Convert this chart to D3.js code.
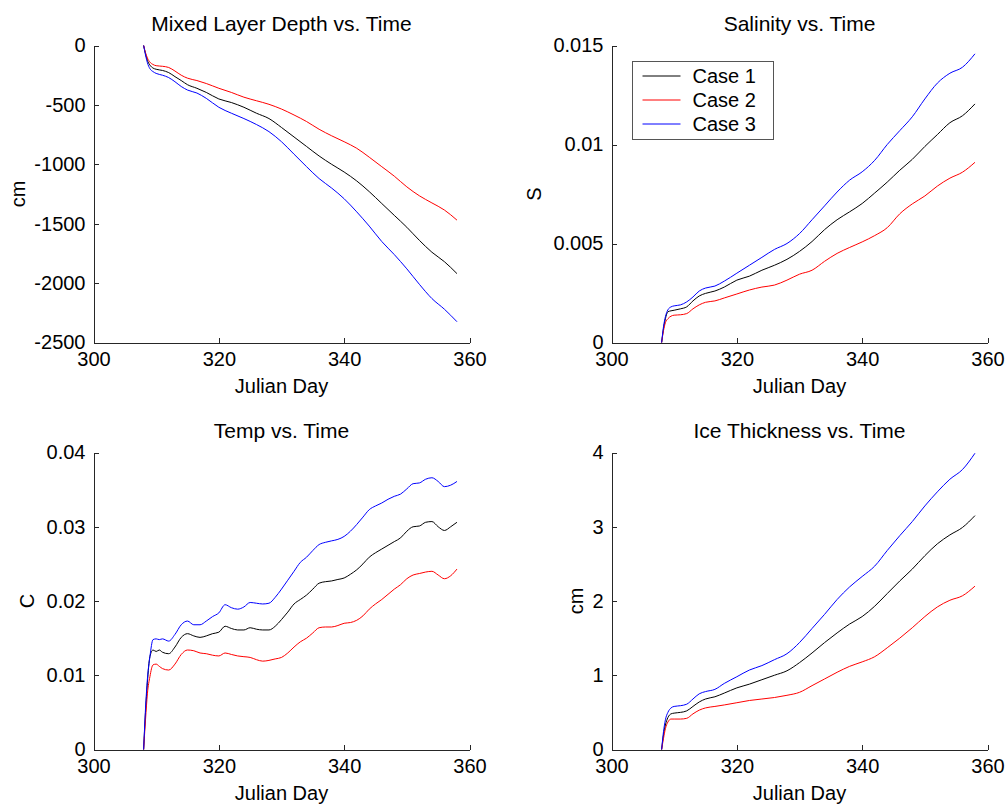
<!DOCTYPE html>
<html>
<head>
<meta charset="utf-8">
<script src="https://cdn.jsdelivr.net/npm/d3@7"></script>
<style>
  html, body { margin: 0; padding: 0; background: #fff; }
  svg { display: block; font-family: "Liberation Sans", Arial, sans-serif; }
  .axis path, .axis line { stroke: #262626; shape-rendering: crispEdges; }
  .axis text { font-size: 20px; fill: #000; font-family: "Liberation Sans", Arial, sans-serif; }
  .xlabel, .ylabel, .legend text { font-size: 20px; fill: #000; }
  .title { font-size: 21px; fill: #000; }
  .series { fill: none; stroke-width: 1; }
</style>
</head>
<body>
<div id="chart"></div>
<script>
// Four MATLAB-style subplots: three model cases vs. Julian day.

// shared day grid for mixed layer depth, salinity and ice thickness
const days = [308, 308.3, 308.6, 309, 309.5, 310, 311, 312, 313, 314, 315, 316.5, 318, 320, 322, 324, 326, 328,
  330, 332, 334, 336, 338, 340, 342, 344, 346, 348, 350, 352, 354, 356, 358];

// Mixed layer depth (cm)
const mldCase1 = [0, -70, -125, -165, -190, -200, -210, -228, -262, -295, -330, -360, -395, -450, -480, -520, -570, -615,
  -690, -770, -850, -930, -1000, -1065, -1140, -1230, -1330, -1430, -1530, -1640, -1740, -1820, -1920];
const mldCase2 = [0, -60, -105, -140, -160, -170, -175, -185, -215, -250, -275, -295, -320, -360, -395, -435, -465, -495,
  -535, -585, -640, -705, -760, -810, -865, -940, -1020, -1100, -1190, -1265, -1325, -1385, -1470];
const mldCase3 = [0, -80, -145, -195, -220, -235, -250, -270, -305, -345, -375, -400, -445, -520, -570, -615, -665, -725,
  -810, -915, -1020, -1120, -1200, -1290, -1400, -1520, -1650, -1760, -1880, -2010, -2130, -2220, -2325];

// Salinity (S)
const salCase1 = [0, 0.0007, 0.0012, 0.00155, 0.0016, 0.00163, 0.0017, 0.0018, 0.0021, 0.00235, 0.00248, 0.0026, 0.0028,
  0.00315, 0.00335, 0.00365, 0.0039, 0.0042, 0.0046, 0.0051, 0.0057, 0.0062, 0.0066, 0.00702, 0.00755, 0.0081, 0.0087,
  0.00925, 0.0099, 0.0105, 0.0111, 0.01145, 0.01205];
const salCase2 = [0, 0.0006, 0.001, 0.0012, 0.00133, 0.00138, 0.0014, 0.00146, 0.0017, 0.0019, 0.00203, 0.0021, 0.00225,
  0.00245, 0.00265, 0.0028, 0.0029, 0.00315, 0.00345, 0.00365, 0.0041, 0.0045, 0.0048, 0.00508, 0.0054, 0.0058, 0.0065,
  0.007, 0.0074, 0.0079, 0.0083, 0.0086, 0.0091];
const salCase3 = [0, 0.0008, 0.0013, 0.00165, 0.0018, 0.00185, 0.0019, 0.00205, 0.0023, 0.0026, 0.00275, 0.00285, 0.0031,
  0.0035, 0.0039, 0.0043, 0.0047, 0.005, 0.0055, 0.0062, 0.0069, 0.0076, 0.0082, 0.00862, 0.0092, 0.01, 0.0107,
  0.0114, 0.0123, 0.0131, 0.0136, 0.0139, 0.01458];

// Ice thickness (cm)
const iceCase1 = [0, 0.2, 0.33, 0.43, 0.48, 0.49, 0.5, 0.52, 0.58, 0.64, 0.68, 0.71, 0.76, 0.83, 0.88, 0.94, 1.0, 1.06,
  1.17, 1.3, 1.44, 1.57, 1.69, 1.79, 1.93, 2.1, 2.27, 2.43, 2.61, 2.77, 2.89, 2.99, 3.15];
const iceCase2 = [0, 0.15, 0.28, 0.37, 0.41, 0.41, 0.41, 0.42, 0.48, 0.53, 0.56, 0.58, 0.6, 0.63, 0.66, 0.68, 0.7, 0.73,
  0.77, 0.86, 0.95, 1.04, 1.12, 1.18, 1.25, 1.37, 1.5, 1.64, 1.79, 1.92, 2.01, 2.07, 2.2];
const iceCase3 = [0, 0.24, 0.4, 0.5, 0.56, 0.58, 0.59, 0.61, 0.68, 0.75, 0.78, 0.81, 0.89, 0.98, 1.07, 1.13, 1.21, 1.29,
  1.44, 1.63, 1.82, 2.02, 2.19, 2.33, 2.47, 2.68, 2.88, 3.07, 3.28, 3.47, 3.64, 3.77, 3.99];

// Temperature (C) -- finer grid, the curves wiggle more
const tempDays = [308, 308.3, 308.6, 309, 309.5, 310, 310.5, 311, 312, 313, 314, 315, 316, 317, 318, 319, 320, 321, 322,
  323, 324, 325, 326, 327, 328, 329, 330, 331, 332, 333, 334, 335, 336, 337, 338, 339, 340, 341, 342, 343, 344, 345,
  346, 347, 348, 349, 350, 351, 352, 353, 354, 355, 356, 357, 358];
const tempCase1 = [0, 0.005, 0.009, 0.0125, 0.0134, 0.0132, 0.0134, 0.0131, 0.0129, 0.0138, 0.0151, 0.0156, 0.0153,
  0.0151, 0.0153, 0.0156, 0.0158, 0.0166, 0.0163, 0.0161, 0.0161, 0.0164, 0.0162, 0.0161, 0.0161, 0.0166, 0.0175,
  0.0185, 0.0196, 0.0202, 0.0208, 0.0216, 0.0224, 0.0226, 0.0227, 0.0229, 0.0231, 0.0236, 0.0242, 0.025, 0.0259,
  0.0265, 0.027, 0.0275, 0.028, 0.0285, 0.0294, 0.03, 0.0301, 0.0306, 0.0307, 0.03, 0.0295, 0.03, 0.0306];
const tempCase2 = [0, 0.004, 0.0075, 0.0098, 0.0114, 0.0115, 0.0112, 0.0109, 0.0107, 0.0115, 0.0128, 0.0134, 0.0133,
  0.013, 0.0129, 0.0127, 0.0126, 0.013, 0.0128, 0.0126, 0.0125, 0.0124, 0.0121, 0.0119, 0.012, 0.0122, 0.0124,
  0.013, 0.0138, 0.0145, 0.015, 0.0157, 0.0164, 0.0165, 0.0165, 0.0167, 0.017, 0.0171, 0.0174, 0.018, 0.0189,
  0.0196, 0.0202, 0.0209, 0.0216, 0.0222, 0.023, 0.0235, 0.0237, 0.0239, 0.024, 0.0235, 0.023, 0.0234, 0.0243];
const tempCase3 = [0, 0.0055, 0.0095, 0.0125, 0.0148, 0.0149, 0.0148, 0.0149, 0.0146, 0.0155, 0.0168, 0.0173, 0.0168,
  0.0168, 0.0173, 0.0179, 0.0184, 0.0195, 0.0191, 0.0189, 0.0192, 0.0198, 0.0197, 0.0196, 0.0197, 0.0205, 0.0216,
  0.0228, 0.024, 0.0252, 0.0259, 0.0268, 0.0276, 0.0279, 0.0281, 0.0283, 0.0287, 0.0294, 0.0303, 0.0313, 0.0323,
  0.0328, 0.0332, 0.0337, 0.0341, 0.0344, 0.0351, 0.0358, 0.0359, 0.0364, 0.0366, 0.0361, 0.0354, 0.0356, 0.0361];

const caseNames = ['Case 1', 'Case 2', 'Case 3'];
const caseColors = ['#000000', '#ff0000', '#0000ff'];

const xTicks = [300, 320, 340, 360];
const mldTicks = [0, -500, -1000, -1500, -2000, -2500];
const salTicks = [0, 0.005, 0.01, 0.015];
const tempTicks = [0, 0.01, 0.02, 0.03, 0.04];
const iceTicks = [0, 1, 2, 3, 4];

const W = 1008, H = 806;
const svg = d3.select('#chart').append('svg').attr('width', W).attr('height', H);

// plot boxes (pixel edges) and how far left of the axis each ylabel sits
const panels = [
  { title: 'Mixed Layer Depth vs. Time', ylabel: 'cm', x: days, ys: [mldCase1, mldCase2, mldCase3],
    domain: [-2500, 0], ticks: mldTicks, left: 93.5, right: 469.5, top: 45.5, bottom: 342.5, ylabOff: 76 },
  { title: 'Salinity vs. Time', ylabel: 'S', x: days, ys: [salCase1, salCase2, salCase3],
    domain: [0, 0.015], ticks: salTicks, left: 611.5, right: 987.5, top: 45.5, bottom: 342.5, ylabOff: 78, legend: true },
  { title: 'Temp vs. Time', ylabel: 'C', x: tempDays, ys: [tempCase1, tempCase2, tempCase3],
    domain: [0, 0.04], ticks: tempTicks, left: 93.5, right: 469.5, top: 452.5, bottom: 749.5, ylabOff: 67 },
  { title: 'Ice Thickness vs. Time', ylabel: 'cm', x: days, ys: [iceCase1, iceCase2, iceCase3],
    domain: [0, 4], ticks: iceTicks, left: 611.5, right: 987.5, top: 452.5, bottom: 749.5, ylabOff: 36 },
];

panels.forEach((p) => {
  const x = d3.scaleLinear().domain([300, 360]).range([p.left, p.right]);
  const y = d3.scaleLinear().domain(p.domain).range([p.bottom, p.top]);
  const g = svg.append('g');

  // MATLAB-style: only left/bottom axes, ticks pointing inward
  g.append('g')
    .attr('class', 'axis')
    .attr('transform', `translate(0,${p.bottom})`)
    .call(d3.axisBottom(x).tickValues(xTicks).tickFormat((d) => String(d)).tickSizeInner(-5).tickSizeOuter(0).tickPadding(9));
  g.append('g')
    .attr('class', 'axis')
    .attr('transform', `translate(${p.left},0)`)
    .call(d3.axisLeft(y).tickValues(p.ticks).tickFormat((d) => String(d)).tickSizeInner(-5).tickSizeOuter(0).tickPadding(8));

  const line = d3.line().x((d) => x(d[0])).y((d) => y(d[1])).curve(d3.curveMonotoneX);
  p.ys.forEach((vals, i) => {
    g.append('path')
      .attr('class', 'series')
      .attr('stroke', caseColors[i])
      .attr('d', line(p.x.map((d, j) => [d, vals[j]])));
  });

  const cx = (p.left + p.right) / 2;
  g.append('text').attr('class', 'title').attr('x', cx).attr('y', p.top - 15).attr('text-anchor', 'middle').text(p.title);
  g.append('text').attr('class', 'xlabel').attr('x', cx).attr('y', p.bottom + 50.5).attr('text-anchor', 'middle').text('Julian Day');
  const ly = (p.top + p.bottom) / 2;
  g.append('text')
    .attr('class', 'ylabel')
    .attr('transform', `translate(${p.left - p.ylabOff},${ly}) rotate(-90)`)
    .attr('text-anchor', 'middle')
    .attr('dy', '0.35em')
    .text(p.ylabel);

  if (p.legend) {
    const lg = g.append('g').attr('class', 'legend').attr('transform', `translate(${p.left + 20},${p.top + 16})`);
    lg.append('rect').attr('x', 0.5).attr('y', 0).attr('width', 141).attr('height', 78)
      .attr('fill', '#fff').attr('stroke', '#555').attr('shape-rendering', 'crispEdges');
    caseNames.forEach((name, i) => {
      const ry = 14.5 + i * 24;
      lg.append('line').attr('x1', 11).attr('x2', 49).attr('y1', ry).attr('y2', ry)
        .attr('stroke', caseColors[i]).attr('stroke-width', 1);
      lg.append('text').attr('x', 61).attr('y', ry + 7).text(name);
    });
  }
});
</script>
</body>
</html>
